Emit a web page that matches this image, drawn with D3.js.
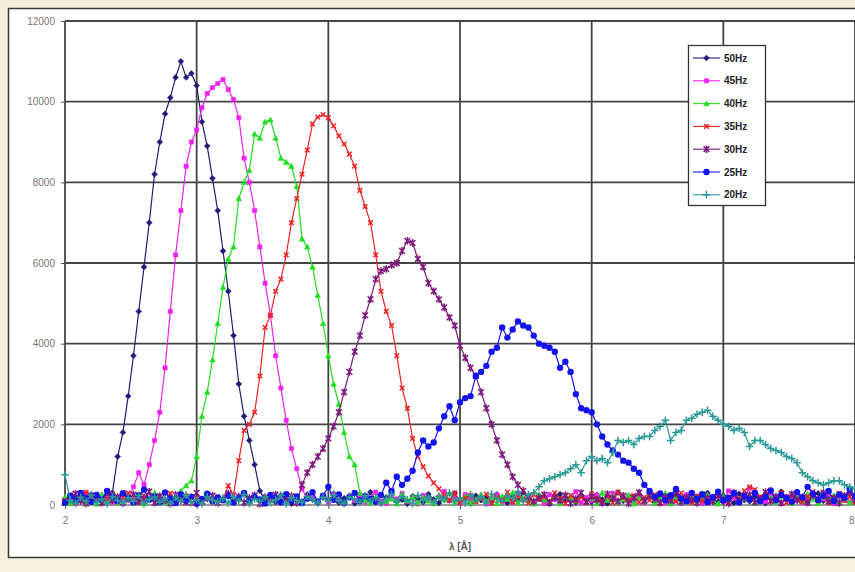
<!DOCTYPE html>
<html>
<head>
<meta charset="utf-8">
<script src="https://cdn.jsdelivr.net/npm/d3@7"></script>
<style>
html, body { margin: 0; padding: 0; background: #f3f1dd; }
svg { display: block; }
</style>
</head>
<body>
<div id="chart"></div>
<script>
// wavelength grid (Å)
var lambda = [
  2.00, 2.04, 2.08, 2.12, 2.16, 2.20, 2.24, 2.28, 2.32, 2.36,
  2.40, 2.44, 2.48, 2.52, 2.56, 2.60, 2.64, 2.68, 2.72, 2.76,
  2.80, 2.84, 2.88, 2.92, 2.96, 3.00, 3.04, 3.08, 3.12, 3.16,
  3.20, 3.24, 3.28, 3.32, 3.36, 3.40, 3.44, 3.48, 3.52, 3.56,
  3.60, 3.64, 3.68, 3.72, 3.76, 3.80, 3.84, 3.88, 3.92, 3.96,
  4.00, 4.04, 4.08, 4.12, 4.16, 4.20, 4.24, 4.28, 4.32, 4.36,
  4.40, 4.44, 4.48, 4.52, 4.56, 4.60, 4.64, 4.68, 4.72, 4.76,
  4.80, 4.84, 4.88, 4.92, 4.96, 5.00, 5.04, 5.08, 5.12, 5.16,
  5.20, 5.24, 5.28, 5.32, 5.36, 5.40, 5.44, 5.48, 5.52, 5.56,
  5.60, 5.64, 5.68, 5.72, 5.76, 5.80, 5.84, 5.88, 5.92, 5.96,
  6.00, 6.04, 6.08, 6.12, 6.16, 6.20, 6.24, 6.28, 6.32, 6.36,
  6.40, 6.44, 6.48, 6.52, 6.56, 6.60, 6.64, 6.68, 6.72, 6.76,
  6.80, 6.84, 6.88, 6.92, 6.96, 7.00, 7.04, 7.08, 7.12, 7.16,
  7.20, 7.24, 7.28, 7.32, 7.36, 7.40, 7.44, 7.48, 7.52, 7.56,
  7.60, 7.64, 7.68, 7.72, 7.76, 7.80, 7.84, 7.88, 7.92, 7.96,
  8.00
]

var hz50 = [
  150, 60, 220, 110, 40, 260, 130, 90, 200, 300,
  1200, 1800, 2700, 3700, 4800, 5900, 7000, 8200, 9000, 9700,
  10100, 10600, 11000, 10600, 10700, 10400, 9500, 8900, 8100, 7300,
  6300, 5300, 4200, 3000, 2200, 1600, 1000, 350, 100, 190,
  70, 240, 120, 30, 180, 90, 260, 140, 50, 210,
  110, 280, 60, 170, 230, 40, 150, 90, 320, 120,
  60, 190, 250, 80, 130, 30, 220, 160, 70, 270,
  140, 50, 200, 110, 290, 80, 170, 40, 230, 120,
  190, 70, 260, 130, 50, 210, 100, 310, 160, 60,
  240, 110, 30, 180, 270, 90, 150, 60, 220, 130,
  80, 250, 140, 40, 190, 310, 100, 170, 60, 230,
  120, 280, 70, 200, 150, 40, 260, 110, 180, 90,
  210, 60, 300, 140, 80, 230, 170, 50, 280, 120,
  90, 200, 150, 40, 260, 110, 330, 180, 70, 240,
  130, 60, 220, 290, 100, 170, 50, 240, 140, 310,
  200
]

var hz45 = [
  90, 210, 40, 160, 280, 70, 190, 120, 240, 60,
  170, 300, 110, 450, 800, 500, 1000, 1600, 2300, 3400,
  4800, 6200, 7300, 8400, 9000, 9300, 9850, 10200, 10350, 10450,
  10550, 10300, 10050, 9600, 8600, 8000, 7300, 6400, 5500, 4700,
  3700, 2900, 2100, 1400, 900, 400, 150, 230, 80, 190,
  60, 270, 140, 30, 200, 110, 250, 70, 180, 320,
  100, 40, 220, 150, 290, 80, 170, 30, 240, 130,
  60, 200, 340, 110, 180, 50, 260, 140, 80, 210,
  30, 160, 250, 90, 190, 60, 300, 120, 220, 70,
  180, 40, 260, 130, 80, 210, 150, 330, 60, 190,
  110, 240, 50, 170, 290, 90, 140, 220, 40, 260,
  70, 190, 130, 300, 50, 230, 110, 170, 260, 80,
  150, 40, 210, 120, 280, 90, 350, 180, 60, 240,
  420, 300, 170, 80, 250, 140, 40, 200, 110, 290,
  60, 180, 230, 90, 150, 270, 40, 200, 120, 80,
  160
]

var hz40 = [
  200, 50, 130, 240, 80, 170, 30, 260, 110, 190,
  60, 280, 140, 90, 220, 40, 170, 300, 120, 70,
  230, 120, 350, 480, 600, 1200, 2200, 2800, 3600, 4500,
  5400, 6100, 6400, 7600, 8000, 8300, 9200, 9100, 9500, 9550,
  9100, 8600, 8500, 8400, 7900, 6600, 6400, 5900, 5200, 4500,
  3700, 3000, 2500, 1800, 1200, 1000, 300, 110, 60, 190,
  240, 90, 150, 30, 270, 120, 200, 60, 180, 100,
  40, 230, 130, 290, 70, 160, 210, 50, 120, 260,
  90, 180, 40, 220, 140, 310, 60, 200, 110, 30,
  250, 130, 80, 190, 40, 240, 160, 100, 280, 60,
  170, 50, 300, 120, 210, 70, 140, 250, 30, 180,
  110, 230, 60, 160, 290, 40, 190, 120, 80, 220,
  60, 170, 250, 100, 30, 210, 140, 280, 90, 160,
  230, 50, 120, 260, 180, 70, 210, 140, 40, 190,
  100, 270, 150, 50, 200, 120, 240, 80, 170, 60,
  140
]

var hz35 = [
  110, 250, 60, 180, 320, 90, 200, 40, 150, 270,
  80, 190, 300, 130, 60, 240, 170, 50, 210, 110,
  290, 70, 160, 230, 40, 180, 120, 260, 90, 200,
  130, 480, 250, 1100, 1850, 2000, 2300, 3200, 4400, 4700,
  5300, 5600, 6200, 7000, 7600, 8200, 8800, 9450, 9620, 9680,
  9600, 9400, 9150, 8950, 8700, 8400, 7800, 7400, 7000, 6200,
  5300, 4800, 4450, 3700, 2900, 2400, 1650, 1200, 950, 720,
  550, 400, 250, 120, 300, 60, 180, 240, 90, 150,
  270, 40, 190, 110, 320, 70, 220, 150, 50, 260,
  130, 200, 80, 300, 170, 40, 240, 110, 190, 60,
  280, 150, 90, 210, 50, 320, 180, 100, 240, 70,
  190, 120, 260, 40, 170, 230, 80, 300, 140, 60,
  220, 110, 50, 180, 290, 130, 70, 240, 160, 350,
  450, 380, 200, 260, 90, 170, 310, 60, 230, 140,
  80, 210, 330, 120, 250, 60, 180, 290, 110, 200,
  70
]

var hz30 = [
  70, 190, 280, 100, 40, 230, 150, 60, 310, 120,
  200, 50, 170, 260, 90, 140, 330, 60, 220, 110,
  40, 250, 130, 70, 190, 300, 80, 160, 230, 50,
  140, 280, 100, 210, 60, 170, 240, 30, 190, 120,
  260, 80, 150, 220, 50, 500, 800, 1000, 1200, 1400,
  1650, 1950, 2300, 2800, 3300, 3800, 4200, 4700, 5100, 5600,
  5800, 5850, 5950, 6000, 6300, 6550, 6500, 6100, 5900, 5500,
  5300, 5100, 4900, 4650, 4450, 3950, 3650, 3400, 3200, 2800,
  2400, 2000, 1600, 1250, 1000, 700, 500, 350, 200, 90,
  170, 260, 60, 190, 110, 240, 40, 150, 300, 80,
  210, 130, 50, 270, 160, 90, 230, 40, 180, 310,
  100, 240, 150, 60, 200, 120, 280, 70, 190, 130,
  50, 260, 170, 90, 220, 140, 40, 300, 110, 180,
  250, 70, 160, 320, 100, 210, 50, 180, 270, 120,
  190, 60, 240, 140, 300, 90, 170, 50, 230, 310,
  120
]

var hz25 = [
  60, 230, 120, 300, 180, 80, 250, 140, 350, 200,
  100, 290, 170, 60, 240, 380, 130, 210, 70, 310,
  160, 50, 260, 110, 200, 30, 150, 280, 90, 190,
  120, 230, 60, 170, 300, 90, 200, 140, 40, 250,
  180, 70, 270, 110, 210, 50, 160, 320, 90, 230,
  450, 130, 260, 60, 190, 300, 100, 220, 150, 80,
  250, 550, 350, 700, 500, 650, 850, 1300, 1600, 1450,
  1550, 1900, 2200, 2450, 2100, 2550, 2650, 2700, 3200, 3300,
  3450, 3800, 3900, 4400, 4150, 4350, 4550, 4450, 4400, 4200,
  4000, 3950, 3900, 3800, 3400, 3550, 3300, 2750, 2400, 2350,
  2300, 2000, 1700, 1500, 1350, 1250, 1100, 1050, 900, 800,
  500, 350, 200, 280, 120, 240, 400, 160, 90, 300,
  150, 260, 70, 200, 330, 110, 180, 290, 60, 230,
  140, 300, 90, 200, 360, 120, 250, 170, 80, 320,
  190, 450, 280, 130, 230, 350, 100, 260, 180, 400,
  220
]

var hz20 = [
  750, 120, 40, 190, 90, 250, 60, 150, 30, 210,
  110, 50, 180, 90, 240, 30, 140, 200, 70, 160,
  40, 190, 100, 250, 60, 130, 30, 210, 120, 80,
  170, 50, 220, 100, 260, 40, 150, 90, 200, 60,
  130, 240, 30, 180, 110, 60, 210, 140, 50, 190,
  90, 250, 120, 40, 200, 150, 70, 230, 100, 180,
  50, 160, 270, 80, 210, 130, 40, 240, 110, 190,
  70, 220, 140, 300, 90, 180, 50, 250, 120, 200,
  60, 270, 150, 90, 230, 170, 320, 100, 260, 300,
  450, 600, 650, 700, 750, 800, 900, 1000, 800, 1100,
  1200, 1100, 1150, 1050, 1300, 1600, 1550, 1600, 1500, 1650,
  1700, 1700, 1850, 1950, 2100, 1600, 1800, 1850, 2100, 2150,
  2250, 2300, 2350, 2200, 2100, 2000, 1950, 1850, 1900, 1800,
  1450, 1600, 1600, 1500, 1400, 1350, 1300, 1200, 1150, 1050,
  800, 700, 600, 550, 500, 550, 600, 600, 500, 450,
  400
]

var seriesNames = ["50Hz", "45Hz", "40Hz", "35Hz", "30Hz", "25Hz", "20Hz"]
var seriesValues = [hz50, hz45, hz40, hz35, hz30, hz25, hz20]
var xTicks = [2, 3, 4, 5, 6, 7, 8]
var yTicks = [0, 2000, 4000, 6000, 8000, 10000, 12000]
var xTitle = "λ [Å]"

// Excel-ish look: colour + marker per series
var styles = [
  { color: "#1e1e78", marker: "diamond", r: 2.9 },
  { color: "#ee22ee", marker: "square", r: 2.1 },
  { color: "#22dd22", marker: "triangle", r: 2.8 },
  { color: "#ee2222", marker: "x", r: 2.3 },
  { color: "#7d1a7d", marker: "star", r: 3.8 },
  { color: "#1414ee", marker: "circle", r: 3.2 },
  { color: "#2a9a96", marker: "plus", r: 3.8 }
]

function markerPath(type, r) {
  if (type == "diamond") return "M0," + (-r) + "L" + r + ",0L0," + r + "L" + (-r) + ",0Z"
  if (type == "square") return "M" + (-r) + "," + (-r) + "h" + (2 * r) + "v" + (2 * r) + "h" + (-2 * r) + "Z"
  if (type == "triangle") return "M0," + (-r) + "L" + r + "," + (r * 0.8) + "L" + (-r) + "," + (r * 0.8) + "Z"
  if (type == "x") return "M" + (-r) + "," + (-r) + "L" + r + "," + r + "M" + (-r) + "," + r + "L" + r + "," + (-r)
  if (type == "star") {
    var k = r * 0.75
    return "M" + (-k) + "," + (-k) + "L" + k + "," + k + "M" + (-k) + "," + k + "L" + k + "," + (-k) + "M0," + (-r) + "L0," + r
  }
  if (type == "plus") return "M" + (-r) + ",0L" + r + ",0M0," + (-r) + "L0," + r
  return null
}

function drawMarker(g, st, x, y) {
  if (st.marker == "circle") {
    g.append("circle").attr("cx", x).attr("cy", y).attr("r", st.r).attr("fill", st.color)
    return
  }
  var filled = (st.marker == "diamond" || st.marker == "square" || st.marker == "triangle")
  g.append("path")
    .attr("transform", "translate(" + x + "," + y + ")")
    .attr("d", markerPath(st.marker, st.r))
    .attr("fill", filled ? st.color : "none")
    .attr("stroke", st.color)
    .attr("stroke-width", filled ? 0.6 : 1.5)
}

function showChart(key, svgsize) {
  var svg = d3.select(key).append("svg")
    .attr("width", svgsize.width)
    .attr("height", svgsize.height)

  // white chart panel
  svg.append("rect")
    .attr("x", 8.5).attr("y", 8.5)
    .attr("width", 900).attr("height", 549)
    .attr("fill", "#ffffff")
    .attr("stroke", "#3a3a3a")
    .attr("stroke-width", 1.5)

  var x = d3.scaleLinear().domain([2, 8]).range([65, 855])
  var y = d3.scaleLinear().domain([0, 12000]).range([505, 21])

  // grid
  var grid = svg.append("g")
  grid.selectAll("line.h").data(yTicks).enter().append("line")
    .attr("x1", x(2)).attr("x2", x(8))
    .attr("y1", function(d) { return y(d) }).attr("y2", function(d) { return y(d) })
    .attr("stroke", function(d) { return d == 0 ? "#9a9a9a" : "#444" })
    .attr("stroke-width", 1.8)
  grid.selectAll("line.v").data(xTicks).enter().append("line")
    .attr("y1", y(0)).attr("y2", y(12000))
    .attr("x1", function(d) { return x(d) }).attr("x2", function(d) { return x(d) })
    .attr("stroke", "#444")
    .attr("stroke-width", 1.8)

  // axes
  var xAxis = d3.axisBottom(x).tickValues(xTicks).tickFormat(d3.format("d")).tickSize(4).tickPadding(8)
  var gx = svg.append("g")
    .attr("transform", "translate(0," + y(0) + ")")
    .call(xAxis)
    .call(function(g) { styleAxis(g) })
  // last label sits on the right edge of the picture, keep it inside
  gx.selectAll(".tick text").filter(function(d) { return d == 8 })
    .attr("text-anchor", "end").attr("dx", "-1")

  var yAxis = d3.axisLeft(y).tickValues(yTicks).tickFormat(d3.format("d")).tickSize(4).tickPadding(6)
  svg.append("g")
    .attr("transform", "translate(" + x(2) + ",0)")
    .call(yAxis)
    .call(function(g) { styleAxis(g) })

  svg.append("text")
    .attr("x", 460).attr("y", 550)
    .attr("text-anchor", "middle")
    .style("font-family", "'Liberation Sans', Arial, sans-serif")
    .style("font-size", "10px")
    .style("font-weight", "bold")
    .style("fill", "#555")
    .text(xTitle)

  // series
  var line = d3.line()
    .x(function(d) { return x(d[0]) })
    .y(function(d) { return y(d[1]) })

  seriesValues.forEach(function(vals, s) {
    var st = styles[s]
    var pts = lambda.map(function(l, i) { return [l, vals[i]] })
    var g = svg.append("g").attr("class", "series")
    g.append("path")
      .attr("d", line(pts))
      .attr("fill", "none")
      .attr("stroke", st.color)
      .attr("stroke-width", 1.2)
    pts.forEach(function(p) {
      drawMarker(g, st, x(p[0]), y(p[1]))
    })
  })

  // legend
  var lg = svg.append("g")
  lg.append("rect")
    .attr("x", 688.5).attr("y", 45.5)
    .attr("width", 77).attr("height", 160)
    .attr("fill", "#ffffff")
    .attr("stroke", "#333")
    .attr("stroke-width", 1.3)
  seriesNames.forEach(function(name, s) {
    var st = styles[s]
    var ly = 58 + s * 22.8
    lg.append("line")
      .attr("x1", 693).attr("x2", 720)
      .attr("y1", ly).attr("y2", ly)
      .attr("stroke", st.color).attr("stroke-width", 1.1)
    drawMarker(lg, st, 706.5, ly)
    lg.append("text")
      .attr("x", 724).attr("y", ly + 3.5)
      .style("font-family", "'Liberation Sans', Arial, sans-serif")
      .style("font-size", "10px")
      .style("font-weight", "bold")
      .style("fill", "#222")
      .text(name)
  })
}

function styleAxis(g) {
  g.select(".domain").remove()
  g.selectAll("line").attr("stroke", "#555")
  g.selectAll("text")
    .style("font-family", "'Liberation Sans', Arial, sans-serif")
    .style("font-size", "10px")
    .style("fill", "#777")
}

showChart("#chart", { width: 855, height: 572 })
</script>
</body>
</html>
